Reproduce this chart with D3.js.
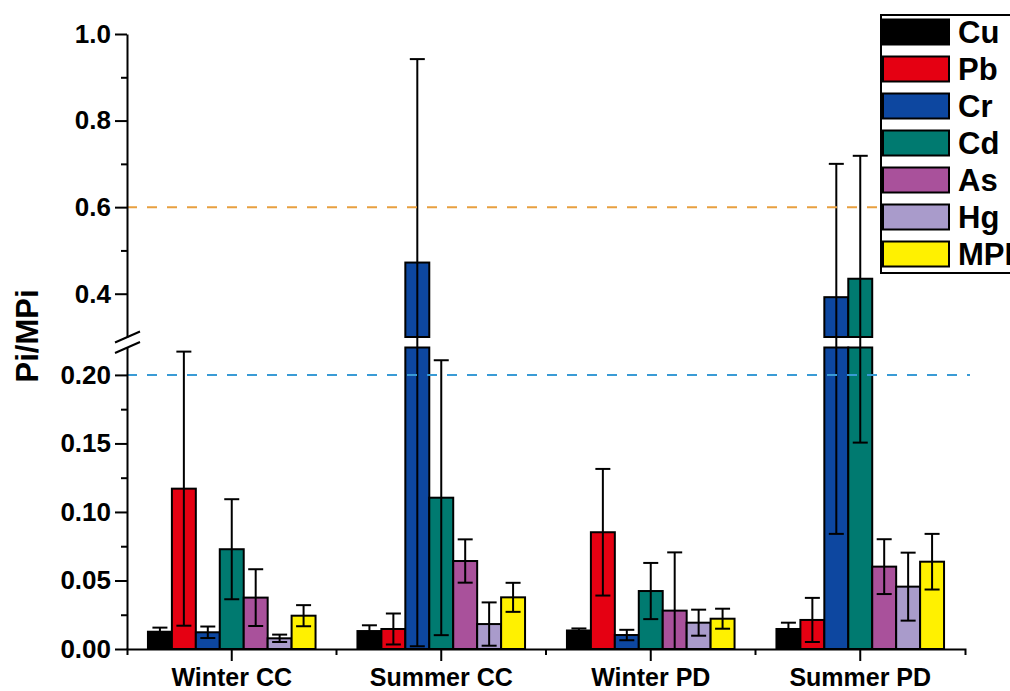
<!DOCTYPE html>
<html>
<head>
<meta charset="utf-8">
<script src="https://cdn.jsdelivr.net/npm/d3@7"></script>
<style>
  body { margin: 0; background: #fff; }
  text { font-family: "Liberation Sans", Arial, sans-serif; font-weight: bold; }
</style>
</head>
<body>
<svg width="1010" height="691"></svg>
<script>
// Categories and series
const groups = ["Winter CC", "Summer CC", "Winter PD", "Summer PD"];
const metals = ["Cu", "Pb", "Cr", "Cd", "As", "Hg", "MPI"];
const metalColors = ["#000000", "#E50012", "#0D47A0", "#007A70", "#A9519B", "#A99BCB", "#FFF100"];

// Mean Pi / MPI per group (order follows metals)
const winterCC = [0.0126, 0.117, 0.0122, 0.0728, 0.0375, 0.0078, 0.0243];
const summerCC = [0.0131, 0.0146, 0.472, 0.1104, 0.0642, 0.0182, 0.0377];
const winterPD = [0.0135, 0.0852, 0.0102, 0.0423, 0.028, 0.0192, 0.0221];
const summerPD = [0.0146, 0.0212, 0.392, 0.4346, 0.0601, 0.0455, 0.0637];

// Standard deviations (error bars)
const winterCCsd = [0.003, 0.100, 0.0042, 0.0365, 0.0207, 0.0027, 0.0077];
const summerCCsd = [0.0042, 0.0113, 0.470, 0.1003, 0.0158, 0.0158, 0.0106];
const winterPDsd = [0.0015, 0.0462, 0.0038, 0.0205, 0.0425, 0.0095, 0.0073];
const summerPDsd = [0.0046, 0.0161, 0.308, 0.284, 0.020, 0.0248, 0.0203];

// Axis ticks for the broken y axis
const upperTicks = [0.4, 0.6, 0.8, 1.0];
const upperMinor = [0.5, 0.7, 0.9];
const lowerTicks = [0, 0.05, 0.10, 0.15, 0.20];
const lowerMinor = [0.025, 0.075, 0.125, 0.175];
const upperDomain = [0.3, 1.0];
const lowerDomain = [0, 0.22];

// Reference levels
const refLines = [{ v: 0.6, color: "#E8A040" }, { v: 0.2, color: "#3A9BD5" }];

const means = [winterCC, summerCC, winterPD, summerPD];
const sds = [winterCCsd, summerCCsd, winterPDsd, summerPDsd];

const data = [];
groups.forEach((g, gi) => {
  metals.forEach((m, mi) => {
    data.push({ group: g, metal: m, value: means[gi][mi], sd: sds[gi][mi] });
  });
});

const svg = d3.select("svg"),
    margin = { top: 34, right: 45, bottom: 42, left: 127 },
    width = +svg.attr("width") - margin.left - margin.right,
    height = +svg.attr("height") - margin.top - margin.bottom,
    g = svg.append("g").attr("transform", `translate(${margin.left},${margin.top})`);

// Two y segments with a small gap between them
const upperH = 303, gapH = 10.5;
const yUpper = d3.scaleLinear().domain(upperDomain).range([upperH, 0]);
const yLower = d3.scaleLinear().domain(lowerDomain).range([height, upperH + gapH]);
const yv = v => (v <= lowerDomain[1] ? yLower(v) : yUpper(v));

const x = d3.scaleBand().domain(groups).range([0, width]).padding(0);
const xInner = d3.scaleBand().domain(metals).range([0, x.bandwidth() * 0.8]).padding(0);
const color = d3.scaleOrdinal().domain(metals).range(metalColors);
const offset = x.bandwidth() * 0.1;

// Bars (split across the break when taller than the lower segment)
const bars = g.append("g");
data.forEach(d => {
  const bx = x(d.group) + offset + xInner(d.metal);
  const bw = xInner.bandwidth();
  const parts = d.value > lowerDomain[1]
    ? [[yLower(0), yLower(lowerDomain[1])], [yUpper(upperDomain[0]), yUpper(d.value)]]
    : [[yLower(0), yLower(d.value)]];
  parts.forEach(p => {
    bars.append("rect")
      .attr("x", bx)
      .attr("y", p[1])
      .attr("width", bw)
      .attr("height", p[0] - p[1])
      .attr("fill", color(d.metal))
      .attr("stroke", "#000")
      .attr("stroke-width", 2);
  });
});

// Error bars
const errs = g.append("g").attr("stroke", "#000").attr("stroke-width", 2);
data.forEach(d => {
  const cx = x(d.group) + offset + xInner(d.metal) + xInner.bandwidth() / 2;
  const lo = Math.max(0, d.value - d.sd), hi = d.value + d.sd;
  errs.append("line").attr("x1", cx).attr("x2", cx).attr("y1", yv(lo)).attr("y2", yv(hi));
  [lo, hi].forEach(v => {
    errs.append("line").attr("x1", cx - 7.5).attr("x2", cx + 7.5).attr("y1", yv(v)).attr("y2", yv(v));
  });
});

// Dashed reference lines
refLines.forEach(r => {
  g.append("line")
    .attr("x1", 0).attr("x2", width + 5)
    .attr("y1", yv(r.v)).attr("y2", yv(r.v))
    .attr("stroke", r.color)
    .attr("stroke-width", 2)
    .attr("stroke-dasharray", "10,10");
});

// Y axes (upper and lower segment)
function styleAxis(sel) {
  sel.selectAll("path, line").attr("stroke", "#000").attr("stroke-width", 2);
  sel.selectAll("text").attr("font-size", "26px").attr("fill", "#000");
}

g.append("g")
  .call(d3.axisLeft(yUpper).tickValues(upperTicks).tickFormat(d3.format(".1f")).tickSize(12).tickSizeOuter(0).tickPadding(4))
  .call(styleAxis);
g.append("g")
  .call(d3.axisLeft(yUpper).tickValues(upperMinor).tickFormat("").tickSize(6))
  .call(sel => sel.select(".domain").remove())
  .call(styleAxis);
g.append("g")
  .call(d3.axisLeft(yLower).tickValues(lowerTicks).tickFormat(d3.format(".2f")).tickSize(12).tickSizeOuter(0).tickPadding(4))
  .call(styleAxis);
g.append("g")
  .call(d3.axisLeft(yLower).tickValues(lowerMinor).tickFormat("").tickSize(6))
  .call(sel => sel.select(".domain").remove())
  .call(styleAxis);

// Break marks on the y axis
[yUpper(upperDomain[0]), yLower(lowerDomain[1])].forEach(yb => {
  g.append("line")
    .attr("x1", -12).attr("x2", 13)
    .attr("y1", yb + 5.5).attr("y2", yb - 5.5)
    .attr("stroke", "#000").attr("stroke-width", 2);
});

// X axis
g.append("g")
  .attr("transform", `translate(0,${height})`)
  .call(d3.axisBottom(x).tickSize(12).tickSizeOuter(6).tickPadding(7))
  .call(styleAxis)
  .call(sel => sel.selectAll("text").attr("font-size", "25px"));
g.append("g")
  .selectAll("line")
  .data(groups.slice(1))
  .enter().append("line")
  .attr("x1", d => x(d)).attr("x2", d => x(d))
  .attr("y1", height).attr("y2", height + 6)
  .attr("stroke", "#000").attr("stroke-width", 2);

// Y axis title
g.append("text")
  .attr("transform", "rotate(-90)")
  .attr("x", -(336 - margin.top))
  .attr("y", 38 - margin.left)
  .attr("text-anchor", "middle")
  .attr("font-size", "31px")
  .text("Pi/MPi");

// Legend
const legend = svg.append("g").attr("transform", "translate(881,15)");
legend.append("rect")
  .attr("width", 150).attr("height", 258)
  .attr("fill", "#fff").attr("stroke", "#000").attr("stroke-width", 2);
const items = legend.selectAll(".item")
  .data(metals)
  .enter().append("g")
  .attr("transform", (d, i) => `translate(2,${4.5 + i * 37})`);
items.append("rect")
  .attr("width", 66).attr("height", 25)
  .attr("fill", color)
  .attr("stroke", "#000").attr("stroke-width", 2);
items.append("text")
  .attr("x", 75).attr("y", 12.5)
  .attr("dy", "0.36em")
  .attr("font-size", "31px")
  .text(d => d);
</script>
</body>
</html>
